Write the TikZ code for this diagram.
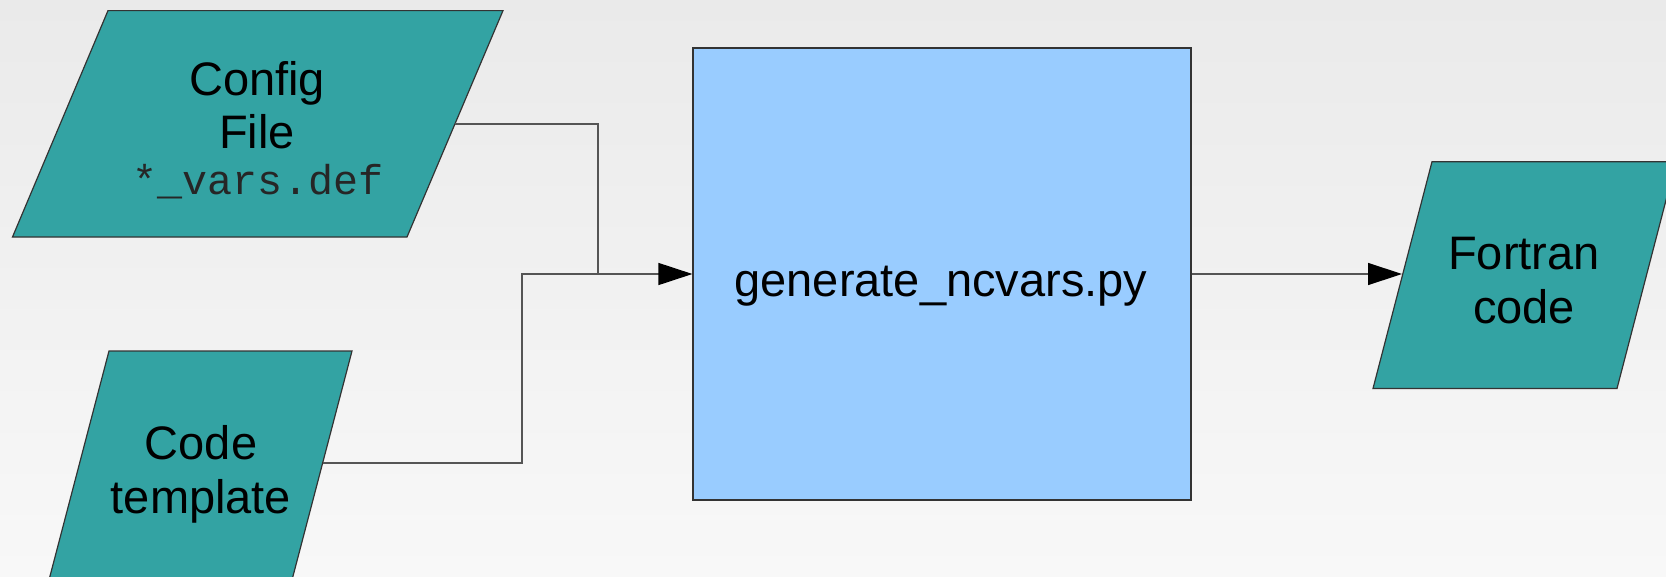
\documentclass[tikz,border=0pt]{standalone}
\usepackage{fontspec}
\setmainfont{Liberation Sans}
\newfontfamily\monofam{Liberation Mono}
\usetikzlibrary{arrows.meta}
\definecolor{teal1}{HTML}{33A3A3}
\definecolor{boxblue}{HTML}{99CCFF}
\definecolor{edgegray}{HTML}{333333}
\definecolor{linegray}{HTML}{555555}
\definecolor{bgtop}{HTML}{EAEAEA}
\definecolor{bgbot}{HTML}{F8F8F8}
\tikzset{
  iobox/.style={fill=teal1,draw=edgegray,line width=1.2pt},
  procbox/.style={fill=boxblue,draw=edgegray,line width=1.2pt,minimum width=498pt,minimum height=452pt,inner sep=0pt},
  bigtxt/.style={anchor=base,inner sep=0pt,font=\fontsize{47}{54}\selectfont},
  monotxt/.style={anchor=base,inner sep=0pt,font=\fontsize{41.7}{48}\selectfont\monofam,text=black!85},
  conn/.style={draw=linegray,line width=1.3pt},
  arr/.style={conn,-{Triangle[length=34pt,width=22pt,fill=black,color=black]}}
}
\begin{document}
\begin{tikzpicture}[x=1pt,y=-1pt]
\useasboundingbox (0,0) rectangle (1666,576);
\shade[top color=bgtop,bottom color=bgbot] (0,0) rectangle (1666,576);
\clip (0,0) rectangle (1666,576);
% input shapes
\filldraw[iobox] (108,10.6) -- (503,10.6) -- (407,237) -- (12.5,237) -- cycle;
\filldraw[iobox] (109,351) -- (352,351) -- (281.5,620) -- (38.5,620) -- cycle;
\filldraw[iobox] (1432,161.7) -- (1676,161.7) -- (1617,388.5) -- (1373,388.5) -- cycle;
% connector end points on the shape edges
\coordinate (cfgout) at (455,124);
\coordinate (cfgbend1) at (598,124);
\coordinate (cfgbend2) at (598,274);
\coordinate (tplout) at (322.7,463);
\coordinate (tplbend1) at (522,463);
\coordinate (tplbend2) at (522,274);
\coordinate (fortin) at (1402,274);
% process box
\node[procbox] (gen) at (942,274) {};
% texts
\node[bigtxt] (cfgA) at (257,95) {Config};
\node[bigtxt] (cfgB) at (257,148) {File};
\node[monotxt] (cfgC) at (258,194) {*\_vars.def};
\node[bigtxt] (tplA) at (201,459) {Code};
\node[bigtxt] (tplB) at (201,513) {template};
\node[bigtxt] (genT) at (941,296) {generate\_ncvars.py};
\node[bigtxt] (fortA) at (1524,269) {Fortran};
\node[bigtxt] (fortB) at (1524,323) {code};
% connectors
\draw[conn] (cfgout) -- (cfgbend1) -- (cfgbend2);
\draw[arr] (tplout) -- (tplbend1) -- (tplbend2) -- (gen.west);
\draw[arr] (gen.east) -- (fortin);
\end{tikzpicture}
\end{document}
